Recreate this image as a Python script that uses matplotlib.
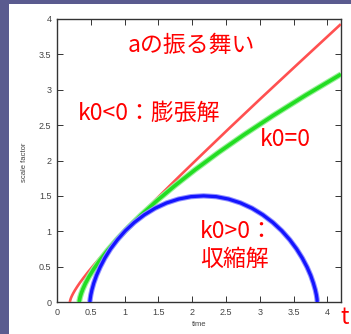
import matplotlib
matplotlib.use("Agg")
import matplotlib.pyplot as plt
from matplotlib.patches import Rectangle

# Scale factor a(t) for the three curvature cases (time, scale factor)
open_t = [0.191, 0.191, 0.192, 0.195, 0.200, 0.208, 0.221, 0.239, 0.264, 0.297,
          0.339, 0.393, 0.459, 0.541, 0.641, 0.762, 0.907, 1.080, 1.286, 1.530,
          1.817, 2.156, 2.553, 3.018, 3.563, 4.198]
open_a = [0.000, 0.002, 0.009, 0.021, 0.038, 0.060, 0.088, 0.122, 0.164, 0.214,
          0.273, 0.342, 0.423, 0.518, 0.629, 0.757, 0.907, 1.081, 1.281, 1.514,
          1.784, 2.097, 2.461, 2.881, 3.366, 3.928]

flat_t = [0.330, 0.330, 0.333, 0.341, 0.357, 0.382, 0.420, 0.473, 0.544, 0.635,
          0.748, 0.886, 1.052, 1.248, 1.477, 1.740, 2.042, 2.383, 2.767, 3.196,
          3.673, 4.200]
flat_a = [0.000, 0.007, 0.029, 0.066, 0.117, 0.182, 0.263, 0.358, 0.467, 0.591,
          0.730, 0.883, 1.051, 1.234, 1.431, 1.642, 1.869, 2.110, 2.365, 2.635,
          2.920, 3.219]

closed_t = [0.487, 0.487, 0.491, 0.500, 0.517, 0.544, 0.584, 0.638, 0.707, 0.792,
            0.894, 1.011, 1.144, 1.291, 1.450, 1.620, 1.798, 1.981, 2.168, 2.354,
            2.537, 2.715, 2.885, 3.044, 3.191, 3.324, 3.442, 3.543, 3.628, 3.698,
            3.752, 3.791, 3.819, 3.836, 3.845, 3.848, 3.849]
closed_a = [0.000, 0.011, 0.045, 0.100, 0.175, 0.268, 0.375, 0.493, 0.620, 0.750,
            0.880, 1.007, 1.125, 1.232, 1.325, 1.400, 1.455, 1.489, 1.500, 1.489,
            1.455, 1.400, 1.325, 1.232, 1.125, 1.007, 0.880, 0.750, 0.620, 0.493,
            0.375, 0.268, 0.175, 0.100, 0.045, 0.011, 0.000]

x_ticks = [0, 0.5, 1, 1.5, 2, 2.5, 3, 3.5, 4]
x_tick_labels = ["0", "0.5", "1", "1.5", "2", "2.5", "3", "3.5", "4"]
y_ticks = [0, 0.5, 1, 1.5, 2, 2.5, 3, 3.5, 4]
y_tick_labels = ["0", "0.5", "1", "1.5", "2", "2.5", "3", "3.5", "4"]

W, H = 351, 334
DPI = 100
CJK = ["Noto Sans CJK JP", "DejaVu Sans"]
SANS = ["Liberation Sans", "DejaVu Sans"]


def fx(px):
    return px / W


def fy(py):
    return 1 - py / H


fig = plt.figure(figsize=(W / DPI, H / DPI), dpi=DPI)
fig.patch.set_facecolor("#5a5b8f")
fig.patches.append(Rectangle((fx(9), 0), 1 - fx(9), fy(4), transform=fig.transFigure,
                             facecolor="white", edgecolor="none", zorder=-10))

ax = fig.add_axes([fx(57), fy(302), fx(341) - fx(57), fy(19) - fy(302)])
ax.set_facecolor("white")

ax.plot(open_t, open_a, color="#ff5050", lw=1.9, solid_capstyle="butt", zorder=3)
ax.plot(flat_t, flat_a, color="#9af09a", lw=4.2, solid_capstyle="butt", zorder=4)
ax.plot(flat_t, flat_a, color="#22dd22", lw=2.6, solid_capstyle="butt", zorder=4)
ax.plot(closed_t, closed_a, color="#9090ff", lw=3.8, solid_capstyle="butt", zorder=5)
ax.plot(closed_t, closed_a, color="#1414ff", lw=2.3, solid_capstyle="butt", zorder=5)

ax.set_xlim(0, 4.2)
ax.set_ylim(0, 4)
ax.set_xticks(x_ticks)
ax.set_xticklabels(x_tick_labels)
ax.set_yticks(y_ticks)
ax.set_yticklabels(y_tick_labels)
ax.tick_params(direction="in", length=4, width=0.7, color="#333333",
               top=True, right=True, labelsize=6.5, labelcolor="#444444", pad=4)
for lab in ax.get_xticklabels() + ax.get_yticklabels():
    lab.set_family(SANS)
for sp in ax.spines.values():
    sp.set_color("#333333")
    sp.set_linewidth(1.0)

fig.text(fx(25), fy(162), "scale factor", rotation=90, ha="center", va="center",
         fontsize=5.5, color="#444444", family=SANS)
fig.text(fx(199), fy(324), "time", ha="center", va="center",
         fontsize=5.5, color="#444444", family=SANS)

red = "#ff0000"
fig.text(fx(191), fy(45), "aの振る舞い", ha="center", va="center",
         fontsize=16.5, color=red, family=CJK)
fig.text(fx(78), fy(113), "k0<0：膨張解", ha="left", va="center",
         fontsize=16.5, color=red, family=CJK)
fig.text(fx(260), fy(140), "k0=0", ha="left", va="center",
         fontsize=16.5, color=red, family=CJK)
fig.text(fx(200), fy(232), "k0>0：", ha="left", va="center",
         fontsize=16.5, color=red, family=CJK)
fig.text(fx(200), fy(259), "収縮解", ha="left", va="center",
         fontsize=16.5, color=red, family=CJK)
fig.text(fx(340), fy(318), "t", ha="left", va="center",
         fontsize=16, color=red, family=CJK)

fig.savefig("out.png", dpi=DPI, facecolor=fig.get_facecolor())
